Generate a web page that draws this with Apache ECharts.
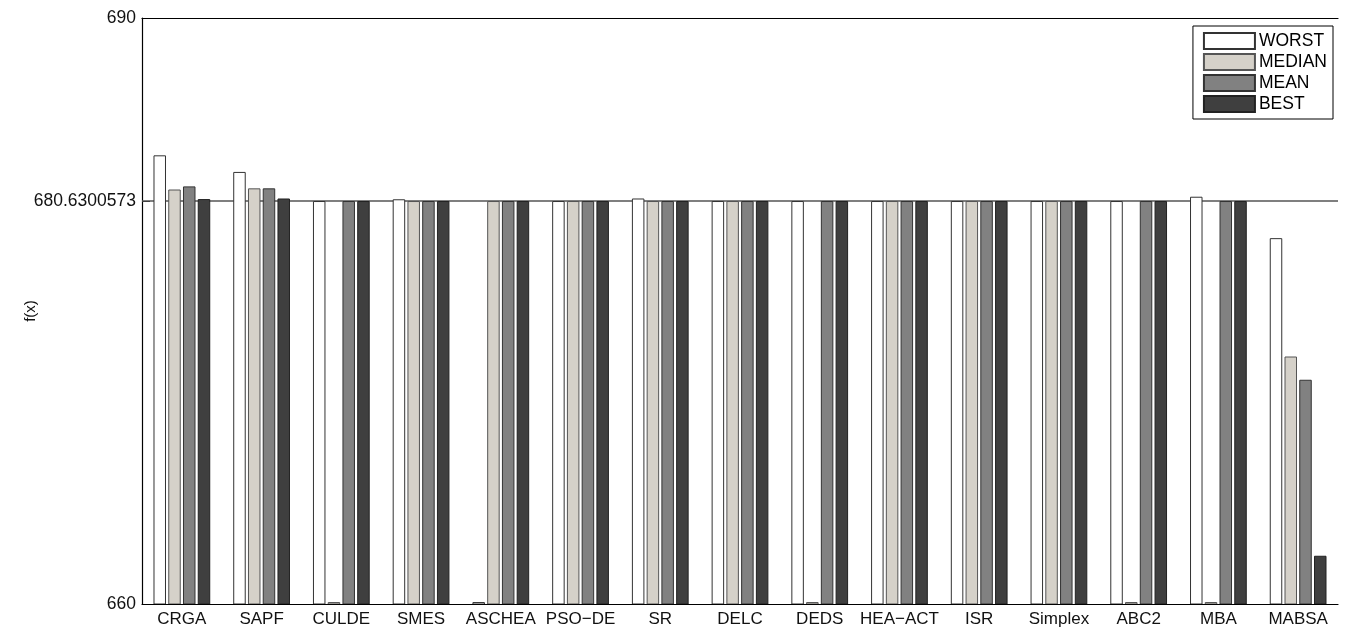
<!DOCTYPE html>
<html>
<head>
<meta charset="utf-8">
<script src="https://cdn.jsdelivr.net/npm/echarts@6/dist/echarts.min.js"></script>
<style>
html,body{margin:0;padding:0;background:#fff;}
#chart{width:1352px;height:628px;}
</style>
</head>
<body>
<div id="chart"></div>
<script>
const categories = ['CRGA','SAPF','CULDE','SMES','ASCHEA','PSO\u2212DE','SR','DELC','DEDS','HEA\u2212ACT','ISR','Simplex','ABC2','MBA','MABSA'];
const worst  = [682.97, 682.12, 680.63, 680.72, 660.1, 680.63, 680.76, 680.63, 680.63, 680.63, 680.63, 680.63, 680.63, 680.85, 678.73];
const median = [681.22, 681.28, 660.1, 680.63, 680.63, 680.63, 680.63, 680.63, 660.1, 680.63, 680.63, 680.63, 660.1, 660.1, 672.67];
const mean   = [681.38, 681.28, 680.63, 680.63, 680.63, 680.63, 680.63, 680.63, 680.63, 680.63, 680.63, 680.63, 680.63, 680.63, 671.48];
const best   = [680.73, 680.76, 680.63, 680.63, 680.63, 680.63, 680.63, 680.63, 680.63, 680.63, 680.63, 680.63, 680.63, 680.63, 662.47];
const yTicks = [660, 680.6300573, 690];
const seriesNames = ['WORST','MEDIAN','MEAN','BEST'];

const FONT = "'Liberation Sans', Arial, Helvetica, sans-serif";
const fills = ['#ffffff','#d5d1c9','#818181','#3f3f3f'];
const borders = ['#333333','#555555','#333333','#222222'];
const dataSets = [worst, median, mean, best];

const chart = echarts.init(document.getElementById('chart'));
const series = seriesNames.map((n, i) => ({
  name: n,
  type: 'bar',
  data: dataSets[i],
  barWidth: 12.5,
  barGap: '18%',
  itemStyle: { color: fills[i], borderColor: borders[i], borderWidth: 1 },
  emphasis: { disabled: true },
  z: 2
}));
series[0].markLine = {
  silent: true,
  z: 1,
  symbol: 'none',
  label: { show: false },
  lineStyle: { color: '#555555', type: 'solid', width: 1.5 },
  data: [{ yAxis: yTicks[1] }]
};

chart.setOption({
  animation: false,
  grid: { left: 142, right: 14, top: 18, bottom: 24 },
  legend: {
    data: seriesNames,
    orient: 'vertical',
    right: 19,
    top: 26,
    itemWidth: 51,
    itemHeight: 16,
    itemGap: 3,
    padding: [6, 6, 6, 10],
    borderColor: '#000',
    borderWidth: 1,
    backgroundColor: '#fff',
    icon: 'rect',
    textStyle: { fontFamily: FONT, fontSize: 17.5, lineHeight: 16, color: '#000', padding: [0,0,0,-1] },
    selectedMode: false
  },
  xAxis: [{
    type: 'category',
    data: categories,
    position: 'bottom',
    z: 3,
    axisLine: { lineStyle: { color: '#000', width: 1.2 } },
    axisTick: { inside: true, length: 13, alignWithLabel: true, lineStyle: { color: '#000', width: 1.5 } },
    axisLabel: { fontFamily: FONT, fontSize: 17, color: '#111', margin: 7, interval: 0 },
    splitLine: { show: false }
  }, {
    type: 'category',
    data: categories,
    position: 'top',
    axisLine: { lineStyle: { color: '#000', width: 1.2 } },
    axisTick: { show: false },
    axisLabel: { show: false }
  }],
  yAxis: {
    type: 'value',
    min: 660,
    max: 690,
    name: 'f(x)',
    nameLocation: 'middle',
    nameGap: 104,
    nameMoveOverlap: false,
    nameRotate: 90,
    nameTextStyle: { fontFamily: FONT, fontSize: 15, color: '#111' },
    axisLine: { show: true, lineStyle: { color: '#000', width: 1.2 } },
    axisTick: { show: true, inside: true, length: 8, customValues: yTicks, lineStyle: { color: '#000' } },
    axisLabel: {
      customValues: yTicks,
      fontFamily: FONT, fontSize: 17.5, color: '#111', margin: 6,
      formatter: v => (Math.abs(v - yTicks[1]) < 1e-6 ? '680.6300573' : String(Math.round(v)))
    },
    splitLine: { show: false }
  },
  series: series
});
</script>
</body>
</html>
